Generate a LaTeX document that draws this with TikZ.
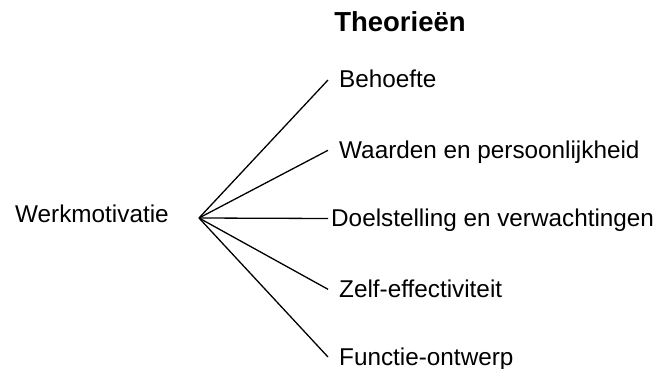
\documentclass[tikz,border=0pt]{standalone}
\usepackage{fontspec}
\setmainfont{Liberation Sans}
\usepackage{tikz}
\usetikzlibrary{positioning}

\begin{document}
\begin{tikzpicture}[x=1pt,y=-1pt,
  item/.style={anchor=base west,inner xsep=11pt,inner ysep=0pt,text height=16pt,text depth=0pt,font=\fontsize{24.3}{28}\selectfont},
  branch/.style={line width=1.3pt}]
\useasboundingbox (0,0) rectangle (659,369);
\node[anchor=base,font=\fontsize{27.5}{31}\selectfont\bfseries] (title) at (400,31.7) {Theorieën};
\node[item,inner xsep=0pt] (werk) at (15,222.7) {Werkmotivatie};
\coordinate (hub) at (199,218);
\node[item] (beh) at (328,88) {Behoefte};
\node[item] (waa) at (328,158.3) {Waarden en persoonlijkheid};
\node[item,inner xsep=3pt] (doel) at (328,226.5) {Doelstelling en verwachtingen};
\node[item] (zelf) at (328,297.3) {Zelf-effectiviteit};
\node[item] (func) at (328,365) {Functie-ontwerp};
\foreach \t in {beh,waa,doel,zelf,func}
  \draw[branch] (hub) -- (\t.west);
\end{tikzpicture}
\end{document}
